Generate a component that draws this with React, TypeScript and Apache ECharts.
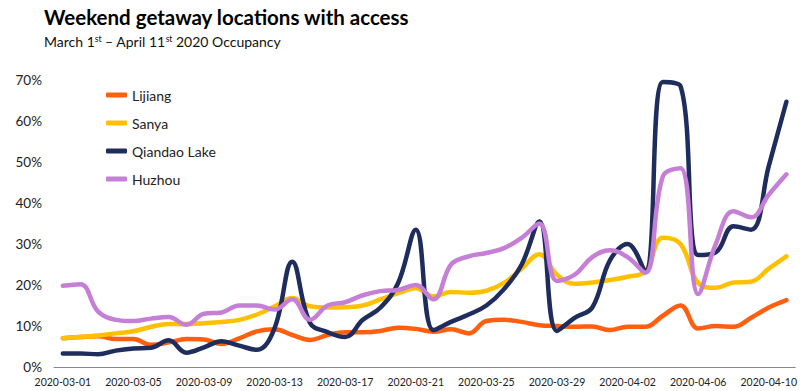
import React, { useEffect, useRef } from "react";
import * as echarts from "echarts";

const dates: string[] = [
  "2020-03-01","2020-03-02","2020-03-03","2020-03-04","2020-03-05","2020-03-06","2020-03-07",
  "2020-03-08","2020-03-09","2020-03-10","2020-03-11","2020-03-12","2020-03-13","2020-03-14",
  "2020-03-15","2020-03-16","2020-03-17","2020-03-18","2020-03-19","2020-03-20","2020-03-21",
  "2020-03-22","2020-03-23","2020-03-24","2020-03-25","2020-03-26","2020-03-27","2020-03-28",
  "2020-03-29","2020-03-30","2020-03-31","2020-04-01","2020-04-02","2020-04-03","2020-04-04",
  "2020-04-05","2020-04-06","2020-04-07","2020-04-08","2020-04-09","2020-04-10","2020-04-11",
];

const lijiang: number[] = [
  7.0, 7.3, 7.5, 6.8, 6.8, 5.4, 6.0, 6.8, 6.7, 5.6, 7.0, 8.7, 9.2, 7.8,
  6.6, 7.8, 8.5, 8.5, 8.8, 9.6, 9.3, 8.6, 9.2, 8.2, 11.2, 11.5, 11.0, 10.2,
  10.0, 9.8, 9.9, 9.0, 9.8, 9.8, 12.5, 15.0, 9.4, 10.0, 9.8, 12.0, 14.5, 16.3,
];

const sanya: number[] = [
  7.0, 7.3, 7.7, 8.2, 8.7, 9.8, 10.5, 10.5, 10.7, 11.0, 11.5, 12.8, 14.8, 16.8,
  14.8, 14.5, 14.6, 15.0, 16.5, 18.0, 19.2, 17.2, 18.3, 18.1, 18.6, 20.5, 24.0, 27.5,
  22.5, 20.3, 20.6, 21.2, 22.0, 23.3, 31.5, 30.0, 20.5, 19.3, 20.6, 20.8, 24.0, 27.0,
];

const qiandao: number[] = [
  3.3, 3.3, 3.1, 4.0, 4.5, 4.7, 6.5, 3.5, 4.8, 6.3, 5.2, 4.2, 9.5, 25.7,
  10.8, 8.5, 7.3, 11.5, 14.5, 20.5, 33.5, 9.0, 11.0, 12.8, 15.0, 19.0, 25.0, 35.5,
  8.8, 12.0, 14.5, 26.0, 30.0, 23.3, 69.5, 68.5, 27.3, 28.0, 34.3, 33.5, 49.0, 64.7,
];

const huzhou: number[] = [
  19.8, 20.2, 13.5, 11.5, 11.2, 11.8, 12.2, 10.3, 13.0, 13.3, 15.0, 15.0, 14.0, 16.5,
  11.5, 15.0, 15.8, 17.5, 18.5, 18.8, 20.0, 16.5, 25.0, 27.0, 27.8, 29.0, 31.5, 35.0,
  21.0, 22.5, 26.8, 28.5, 26.8, 23.0, 46.5, 48.5, 17.8, 30.0, 38.0, 36.5, 42.0, 47.0,
];

const seriesNames: string[] = ["Lijiang", "Sanya", "Qiandao Lake", "Huzhou"];
const seriesColors: string[] = ["#FF5F0F", "#FFC000", "#1F2D5E", "#C67FD6"];

const FONT = "Lato, 'Open Sans', sans-serif";

export default function App() {
  const ref = useRef<HTMLDivElement>(null);

  useEffect(() => {
    if (!ref.current) return;
    document.body.style.margin = "0";
    const chart = echarts.init(ref.current, undefined, { renderer: "svg" });
    const values = [lijiang, sanya, qiandao, huzhou];
    chart.setOption({
      animation: false,
      backgroundColor: "#ffffff",
      textStyle: { fontFamily: FONT },
      title: {
        left: 39,
        top: 1,
        text: "Weekend getaway locations with access",
        textStyle: { fontFamily: FONT, fontSize: 20.5, fontWeight: "bold", color: "#000" },
        subtext: "March 1{sup|st} – April 11{sup|st} 2020 Occupancy",
        itemGap: 7,
        subtextStyle: {
          fontFamily: FONT,
          fontSize: 14,
          color: "#111",
          rich: {
            sup: { fontFamily: FONT, fontSize: 8.5, color: "#111", verticalAlign: "top", padding: [0, 0, 6, 0] },
          },
        },
      },
      legend: {
        orient: "vertical",
        left: 101,
        top: 80,
        itemWidth: 21,
        itemHeight: 5,
        itemGap: 8,
        icon: "roundRect",
        data: seriesNames,
        textStyle: { fontFamily: FONT, fontSize: 14, color: "#222", lineHeight: 20, padding: [0, 0, 0, 0] },
      },
      grid: { left: 54, right: 4, top: 80, bottom: 24 },
      xAxis: {
        type: "category",
        data: dates,
        boundaryGap: true,
        axisLine: { show: true, lineStyle: { color: "#888", width: 1 } },
        axisTick: { show: false },
        axisLabel: { interval: 3, fontFamily: FONT, fontSize: 10.5, color: "#222", margin: 9 },
      },
      yAxis: {
        type: "value",
        min: 0,
        max: 70,
        interval: 10,
        axisLine: { show: false },
        axisTick: { show: false },
        splitLine: { show: false },
        axisLabel: { formatter: "{value}%", fontFamily: FONT, fontSize: 13.5, color: "#222", margin: 12 },
      },
      series: seriesNames.map((name, i) => ({
        name,
        type: "line",
        data: values[i],
        smooth: 0.4,
        symbol: "none",
        lineStyle: { width: 4.5, color: seriesColors[i], cap: "round", join: "round" },
        itemStyle: { color: seriesColors[i] },
      })),
    });
    return () => chart.dispose();
  }, []);

  return <div ref={ref} style={{ width: 800, height: 391, position: "absolute", left: 0, top: 0 }} />;
}
